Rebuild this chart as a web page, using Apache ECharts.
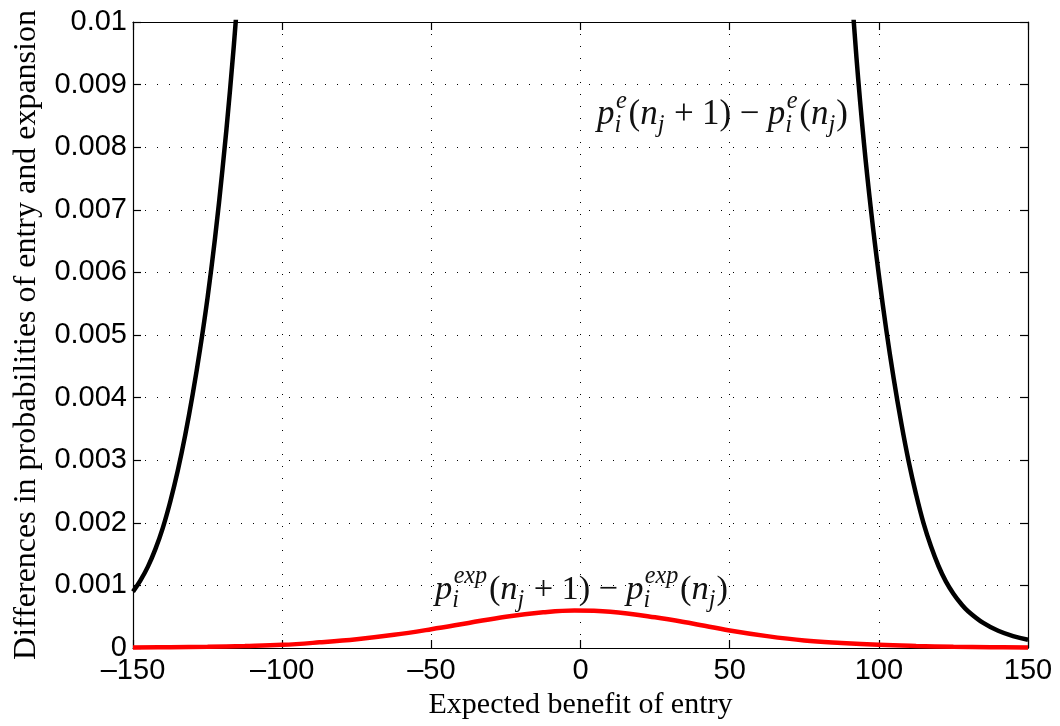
<!DOCTYPE html>
<html><head><meta charset="utf-8">
<script src="https://cdn.jsdelivr.net/npm/echarts@6/dist/echarts.min.js"></script>
<style>html,body{margin:0;padding:0;background:#fff}#c{width:1060px;height:726px}</style>
</head><body><div id="c"></div>
<script>
// ---- data ----
const xTicks = [-150, -100, -50, 0, 50, 100, 150];
const yTicks = [0, 0.001, 0.002, 0.003, 0.004, 0.005, 0.006, 0.007, 0.008, 0.009, 0.01];

// black curve: p_i^e(n_j+1) - p_i^e(n_j), left branch
const entryLeftX = [-150, -147.5, -145, -142.5, -140, -137.5, -135, -132.5, -130, -127.5, -125, -122.5, -120, -117.5, -115, -112.5];
const entryLeftY = [0.00090, 0.00108, 0.00130, 0.00158, 0.00192, 0.00234, 0.00283, 0.00340, 0.00405, 0.00478, 0.00560, 0.00655, 0.00765, 0.00890, 0.01035, 0.01200];
// black curve, right branch
const entryRightX = [90, 92.5, 95, 97.5, 100, 102.5, 105, 107.5, 110, 112.5, 115, 117.5, 120, 122.5, 125, 127.5, 130, 135, 140, 145, 150];
const entryRightY = [0.01110, 0.00943, 0.00807, 0.00694, 0.00596, 0.00508, 0.00430, 0.00360, 0.00298, 0.00245, 0.00199, 0.00162, 0.00131, 0.00106, 0.000867, 0.000710, 0.000584, 0.000400, 0.000275, 0.000190, 0.000132];
// red curve: p_i^exp(n_j+1) - p_i^exp(n_j)
const expX = [-150, -137.5, -125, -112.5, -100, -87.5, -75, -62.5, -50, -37.5, -25, -12.5, -2, 10, 25, 37.5, 50, 62.5, 75, 87.5, 100, 112.5, 125, 137.5, 150];
const expY = [0.000008, 0.000012, 0.00002, 0.000032, 0.00005, 0.00009, 0.00014, 0.00021, 0.00030, 0.00040, 0.00050, 0.00057, 0.00060, 0.00058, 0.00049, 0.00039, 0.00028, 0.00019, 0.00012, 0.00008, 0.00005, 0.000032, 0.00002, 0.000012, 0.000008];

const xTitle = 'Expected benefit of entry';
const yTitle = 'Differences in probabilities of entry and expansion';

const pairs = (xs, ys) => xs.map((x, i) => [x, ys[i]]);

// ---- math labels built from text pieces ----
const SERIF = "'Liberation Serif','DejaVu Serif',serif";
const ctx = document.createElement('canvas').getContext('2d');
function fnt(st, size) { return (st === 'i' ? 'italic ' : '') + size.toFixed(2) + 'px ' + SERIF; }
function tw(t, f) { ctx.font = f; ctx.textBaseline = 'alphabetic'; return ctx.measureText(t).width; }
function midOff(f) {
  ctx.font = f; ctx.textBaseline = 'alphabetic';
  const a = ctx.measureText('H').actualBoundingBoxAscent;
  ctx.textBaseline = 'middle';
  const b = ctx.measureText('H').actualBoundingBoxAscent;
  ctx.textBaseline = 'alphabetic';
  return a - b;
}
function layout(pieces, S) {
  let x = 0; const out = [];
  for (const p of pieces) {
    x += (p.gl || 0) * S;
    const f = fnt(p.st, S);
    out.push({ text: p.t, x: x, dy: 0, font: f });
    x += tw(p.t, f);
    if (p.sup || p.sub) {
      const s = S * 0.7, fs = fnt('i', s);
      let adv = 0;
      if (p.sup) { const k = (p.supK || 0) * S; out.push({ text: p.sup, x: x + k, dy: -0.45 * S, font: fs }); adv = Math.max(adv, k + tw(p.sup, fs)); }
      if (p.sub) { out.push({ text: p.sub, x: x, dy: 0.22 * S, font: fs }); adv = Math.max(adv, tw(p.sub, fs)); }
      x += adv + 0.03 * S;
    }
    x += (p.gr || 0) * S;
  }
  return { items: out, width: x };
}
function mathLabel(supTxt) {
  return [
    { t: 'p', st: 'i', sup: supTxt, sub: 'i', supK: 0.04 },
    { t: '(', st: 'r', gl: 0.02 },
    { t: 'n', st: 'i', sub: 'j' },
    { t: '+', st: 'r', gl: 0.24, gr: 0.24 },
    { t: '1', st: 'r' },
    { t: ')', st: 'r' },
    { t: '\u2212', st: 'r', gl: 0.24, gr: 0.24 },
    { t: 'p', st: 'i', sup: supTxt, sub: 'i', supK: 0.04 },
    { t: '(', st: 'r', gl: 0.02 },
    { t: 'n', st: 'i', sub: 'j' },
    { t: ')', st: 'r' }
  ];
}
function mathGraphic(pieces, x0, baseline, targetW) {
  let L = layout(pieces, 24);
  const S = 24 * targetW / L.width;
  L = layout(pieces, S);
  return L.items.map(it => {
    const off = midOff(it.font);
    return {
      type: 'text', x: x0 + it.x, y: baseline + it.dy - off, silent: true, z: 100,
      style: { text: it.text, font: it.font, fill: '#111', align: 'left', verticalAlign: 'middle', textAlign: 'left', textVerticalAlign: 'middle' }
    };
  });
}

const graphics = [].concat(
  mathGraphic(mathLabel('e'), 597, 124, 251),
  mathGraphic(mathLabel('exp'), 435, 599, 293)
);

const SANS = "'Liberation Sans', Arial, Helvetica, sans-serif";
const tickFmtX = v => v < 0 ? '\u2013' + Math.abs(v) : String(v);
const tickFmtY = v => v === 0 ? '0' : String(+v.toFixed(3));
const dotted = { color: '#000', width: 1, type: [1, 11] };
const axLine = { show: true, onZero: false, lineStyle: { color: '#000', width: 1.2 } };
const axTick = { show: true, inside: true, length: 8, lineStyle: { color: '#000', width: 1.2 } };

const chart = echarts.init(document.getElementById('c'), null, { renderer: 'canvas' });
chart.setOption({
  animation: false,
  backgroundColor: '#fff',
  grid: { left: 133, right: 32, top: 22, bottom: 78, containLabel: false, outerBoundsMode: 'none' },
  xAxis: [
    {
      type: 'value', min: xTicks[0], max: xTicks[xTicks.length - 1], interval: 50, position: 'bottom',
      axisLine: axLine, axisTick: axTick,
      splitLine: { show: true, lineStyle: dotted },
      axisLabel: { color: '#000', fontFamily: SANS, fontSize: 29, margin: 8, formatter: tickFmtX },
      name: xTitle, nameLocation: 'middle', nameGap: 42,
      nameTextStyle: { color: '#000', fontFamily: SERIF, fontSize: 30 }
    },
    {
      type: 'value', min: xTicks[0], max: xTicks[xTicks.length - 1], interval: 50, position: 'top',
      axisLine: axLine, axisTick: axTick, splitLine: { show: false }, axisLabel: { show: false }
    }
  ],
  yAxis: [
    {
      type: 'value', min: yTicks[0], max: yTicks[yTicks.length - 1], interval: 0.001, position: 'left',
      axisLine: axLine, axisTick: axTick,
      splitLine: { show: true, lineStyle: dotted },
      axisLabel: { color: '#000', fontFamily: SANS, fontSize: 29, margin: 6, formatter: tickFmtY },
      name: yTitle, nameLocation: 'middle', nameGap: 90,
      nameTextStyle: { color: '#000', fontFamily: SERIF, fontSize: 32 }
    },
    {
      type: 'value', min: yTicks[0], max: yTicks[yTicks.length - 1], interval: 0.001, position: 'right',
      axisLine: axLine, axisTick: axTick, splitLine: { show: false }, axisLabel: { show: false }
    }
  ],
  series: [
    { type: 'line', name: 'entry', data: pairs(entryLeftX, entryLeftY), showSymbol: false, symbol: 'none', smooth: 0.4, clip: true,
      lineStyle: { color: '#000', width: 4.5 }, z: 3 },
    { type: 'line', name: 'entry', data: pairs(entryRightX, entryRightY), showSymbol: false, symbol: 'none', smooth: 0.4, clip: true,
      lineStyle: { color: '#000', width: 4.5 }, z: 3 },
    { type: 'line', name: 'expansion', data: pairs(expX, expY), showSymbol: false, symbol: 'none', smooth: 0.4, clip: true,
      lineStyle: { color: '#ff0000', width: 4.5 }, z: 4 }
  ],
  graphic: graphics
});
</script>
</body></html>
